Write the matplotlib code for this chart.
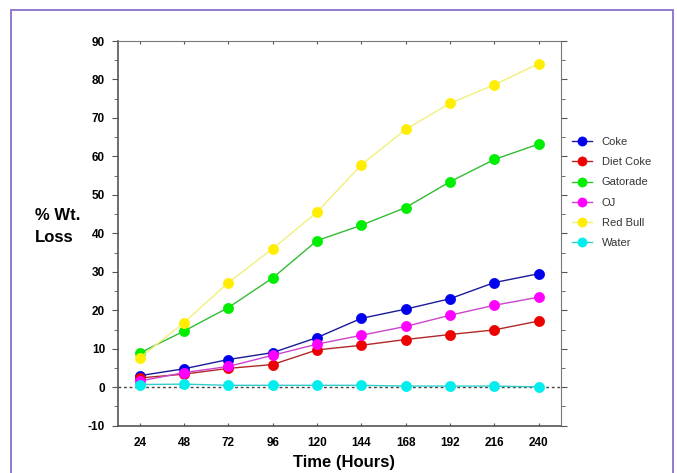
import matplotlib
matplotlib.use("Agg")
import matplotlib.pyplot as plt
from matplotlib.patches import Rectangle
from matplotlib.ticker import MultipleLocator

hours = [24, 48, 72, 96, 120, 144, 168, 192, 216, 240]

coke = [3.0, 4.8, 7.2, 9.0, 12.9, 17.9, 20.3, 23.0, 27.2, 29.5]
diet_coke = [2.4, 3.4, 4.9, 5.9, 9.7, 10.9, 12.4, 13.7, 14.9, 17.2]
gatorade = [8.9, 14.6, 20.7, 28.4, 38.1, 42.1, 46.7, 53.4, 59.2, 63.2]
oj = [1.6, 3.8, 5.4, 8.3, 11.2, 13.5, 15.8, 18.7, 21.3, 23.4]
red_bull = [7.6, 16.8, 27.2, 36.0, 45.5, 57.8, 67.0, 73.8, 78.6, 84.1]
water = [0.7, 0.8, 0.5, 0.5, 0.5, 0.5, 0.3, 0.3, 0.3, 0.1]

series = [
    ("Coke", coke, "#1a1a99", "#0000ee"),
    ("Diet Coke", diet_coke, "#b02828", "#ee0000"),
    ("Gatorade", gatorade, "#33bb33", "#00ee00"),
    ("OJ", oj, "#cc44cc", "#ff00ff"),
    ("Red Bull", red_bull, "#f2f07a", "#ffee00"),
    ("Water", water, "#33cccc", "#00eeee"),
]

plt.rcParams["font.family"] = ["Liberation Sans", "DejaVu Sans"]
plt.rcParams["axes.unicode_minus"] = False

fig = plt.figure(figsize=(6.77, 4.73), dpi=100)
fig.patches.append(Rectangle((11 / 677, -0.05), 662 / 677, 1.05 - 10 / 473,
                             transform=fig.transFigure, fill=False,
                             edgecolor="#8a6fc8", linewidth=1.3))

ax = fig.add_axes([0.1736, 0.100, 0.6546, 0.8133])

ax.axhline(0, color="#444444", linestyle=(0, (2, 2)), linewidth=1, zorder=1)

for name, vals, line_c, mark_c in series:
    ax.plot(hours, vals, color=line_c, linewidth=1, marker="o", markersize=7.3,
            markerfacecolor=mark_c, markeredgecolor=mark_c, markeredgewidth=0.5,
            label=name, zorder=3)

ax.set_xlim(12, 252)
ax.set_ylim(-10, 90)
ax.set_xticks(hours)
ax.yaxis.set_major_locator(MultipleLocator(10))
ax.yaxis.set_minor_locator(MultipleLocator(5))

for lab in ax.get_xticklabels() + ax.get_yticklabels():
    lab.set_fontweight("bold")
    lab.set_fontsize(8.5)

ax.tick_params(axis="y", which="major", direction="out", length=4, color="#555555",
               right=True, pad=5)
ax.tick_params(axis="y", which="minor", direction="out", length=3, color="#555555",
               right=True)
ax.tick_params(axis="x", direction="in", length=2, color="#555555", top=True, pad=8)

for side in ["top", "right"]:
    ax.spines[side].set_color("#777777")
for side in ["left", "bottom"]:
    ax.spines[side].set_color("#555555")
    ax.spines[side].set_linewidth(1.2)

fig.text(35 / 677, 1 - 215 / 473, "% Wt.", fontsize=12, fontweight="bold",
         ha="left", va="center")
fig.text(35 / 677, 1 - 237 / 473, "Loss", fontsize=12, fontweight="bold",
         ha="left", va="center")
fig.text(344 / 677, 1 - 462 / 473, "Time (Hours)", fontsize=12, fontweight="bold",
         ha="center", va="center")

leg = ax.legend(loc="upper left", bbox_to_anchor=(1.015, 0.762), frameon=False,
                fontsize=8, handlelength=1.8, labelspacing=0.92, handletextpad=0.9,
                borderaxespad=0, markerscale=0.9)
for t in leg.get_texts():
    t.set_color("#333333")

fig.savefig("out.png", dpi=100)
